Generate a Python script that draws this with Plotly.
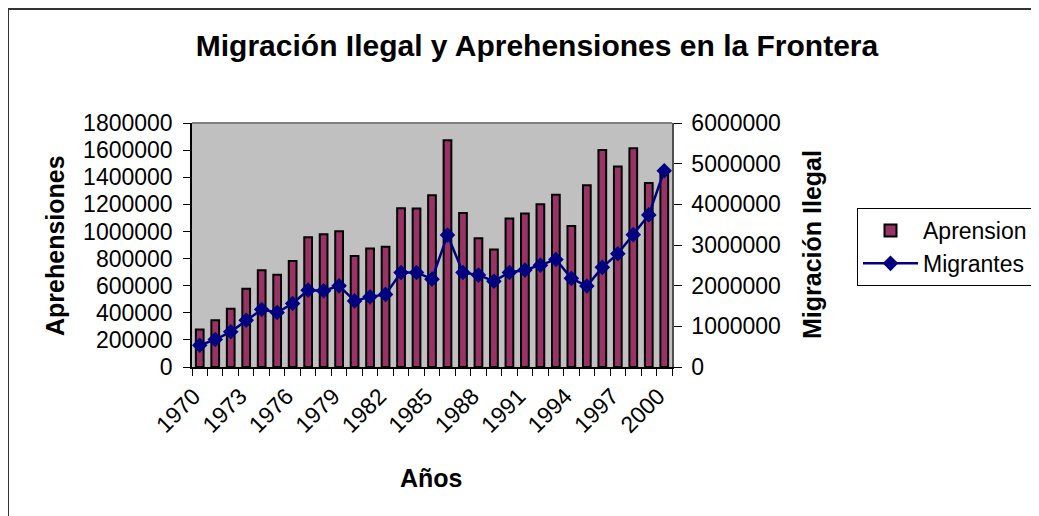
import plotly.graph_objects as go

years = list(range(1970, 2001))
aprension = [277000, 345000, 430000, 577000, 713000, 680000, 782000, 958000, 979000, 1001000,
             818000, 875000, 887000, 1171000, 1169000, 1267000, 1672000, 1136000, 950000, 867000,
             1095000, 1133000, 1200000, 1270000, 1040000, 1340000, 1600000, 1480000, 1613000,
             1357000, 1430000]
migrantes = [535000, 675000, 865000, 1150000, 1415000, 1340000, 1560000, 1890000, 1875000, 1995000,
             1625000, 1725000, 1785000, 2325000, 2325000, 2160000, 3245000, 2325000, 2260000, 2110000,
             2325000, 2385000, 2505000, 2645000, 2180000, 1990000, 2450000, 2785000, 3255000,
             3740000, 4825000]
label_years = years[::3]

FONT = "Liberation Sans, Arial, sans-serif"
OFF = 8  # page body offset

fig = go.Figure()
fig.add_trace(go.Bar(
    x=years, y=aprension, name="Aprension", width=0.5,
    marker=dict(color="#993366", line=dict(color="black", width=2)),
    yaxis="y",
))
fig.add_trace(go.Scatter(
    x=years, y=migrantes, name="Migrantes", mode="lines+markers",
    line=dict(color="#000080", width=2.5),
    marker=dict(symbol="diamond", size=12, color="#000080"),
    yaxis="y2",
))

fig.update_layout(
    width=1039, height=516,
    margin=dict(l=192-OFF, r=1039-(192-OFF)-480, t=123-OFF, b=516-(123-OFF)-244),
    paper_bgcolor="white", plot_bgcolor="#C0C0C0",
    font=dict(family=FONT, size=23, color="black"),
    title=dict(text="<b>Migración Ilegal y Aprehensiones en la Frontera</b>",
               x=(537-OFF)/1039, xanchor="center", y=1-(45-OFF)/516, yanchor="middle",
               font=dict(size=30, family=FONT, color="black")),
    showlegend=True,
    legend=dict(x=(857-192)/480, xanchor="left", y=(367-208)/244, yanchor="top",
                bgcolor="white", bordercolor="black", borderwidth=1, itemwidth=55,
                font=dict(size=23, family=FONT), tracegroupgap=0),
    xaxis=dict(range=[1969.5, 2000.5], tickmode="array", tickvals=label_years,
               ticktext=[str(v) for v in label_years], tickangle=-45,
               ticks="outside", ticklen=0, ticklabelstandoff=5, ticklabelshift=-6,
               showgrid=False, zeroline=False,
               showline=True, linecolor="black", linewidth=1.5,
               minor=dict(tick0=1969.5, dtick=1, ticks="outside", ticklen=7,
                          tickcolor="black", showgrid=False),
               tickfont=dict(size=23)),
    yaxis=dict(range=[0, 1800000], dtick=200000, tickformat="d",
               ticks="outside", ticklen=7, tickcolor="black", ticklabelstandoff=6,
               showgrid=False, zeroline=False, showline=True,
               linecolor="black", linewidth=1.5, tickfont=dict(size=23)),
    yaxis2=dict(range=[0, 6000000], dtick=1000000, tickformat="d",
                overlaying="y", side="right",
                ticks="outside", ticklen=8, tickcolor="black", ticklabelstandoff=5,
                showgrid=False, zeroline=False, showline=True,
                linecolor="#505050", linewidth=1.5, tickfont=dict(size=23)),
    bargap=0.5,
)

# plot-area top border
fig.add_shape(type="line", xref="paper", yref="paper", x0=0, x1=1, y0=1, y1=1,
              line=dict(color="#808080", width=2))
# chart outer border (extends past bottom/right edges)
fig.add_shape(type="rect", xref="paper", yref="paper",
              x0=(8-192)/480, x1=(1060-192)/480, y0=(367-540)/244, y1=(367-9)/244,
              line=dict(color="#333333", width=2), fillcolor="rgba(0,0,0,0)", layer="below")

fig.add_annotation(text="<b>Años</b>", xref="paper", yref="paper",
                   x=(431-192)/480, y=(367-478)/244, showarrow=False,
                   xanchor="center", yanchor="middle", font=dict(size=25, family=FONT))
fig.add_annotation(text="<b>Aprehensiones</b>", xref="paper", yref="paper",
                   x=(55-192)/480, y=(367-246)/244, showarrow=False, textangle=-90,
                   xanchor="center", yanchor="middle", font=dict(size=25, family=FONT))
fig.add_annotation(text="<b>Migración Ilegal</b>", xref="paper", yref="paper",
                   x=(812-192)/480, y=(367-245)/244, showarrow=False, textangle=-90,
                   xanchor="center", yanchor="middle", font=dict(size=25, family=FONT))

fig.write_html("out.html")
